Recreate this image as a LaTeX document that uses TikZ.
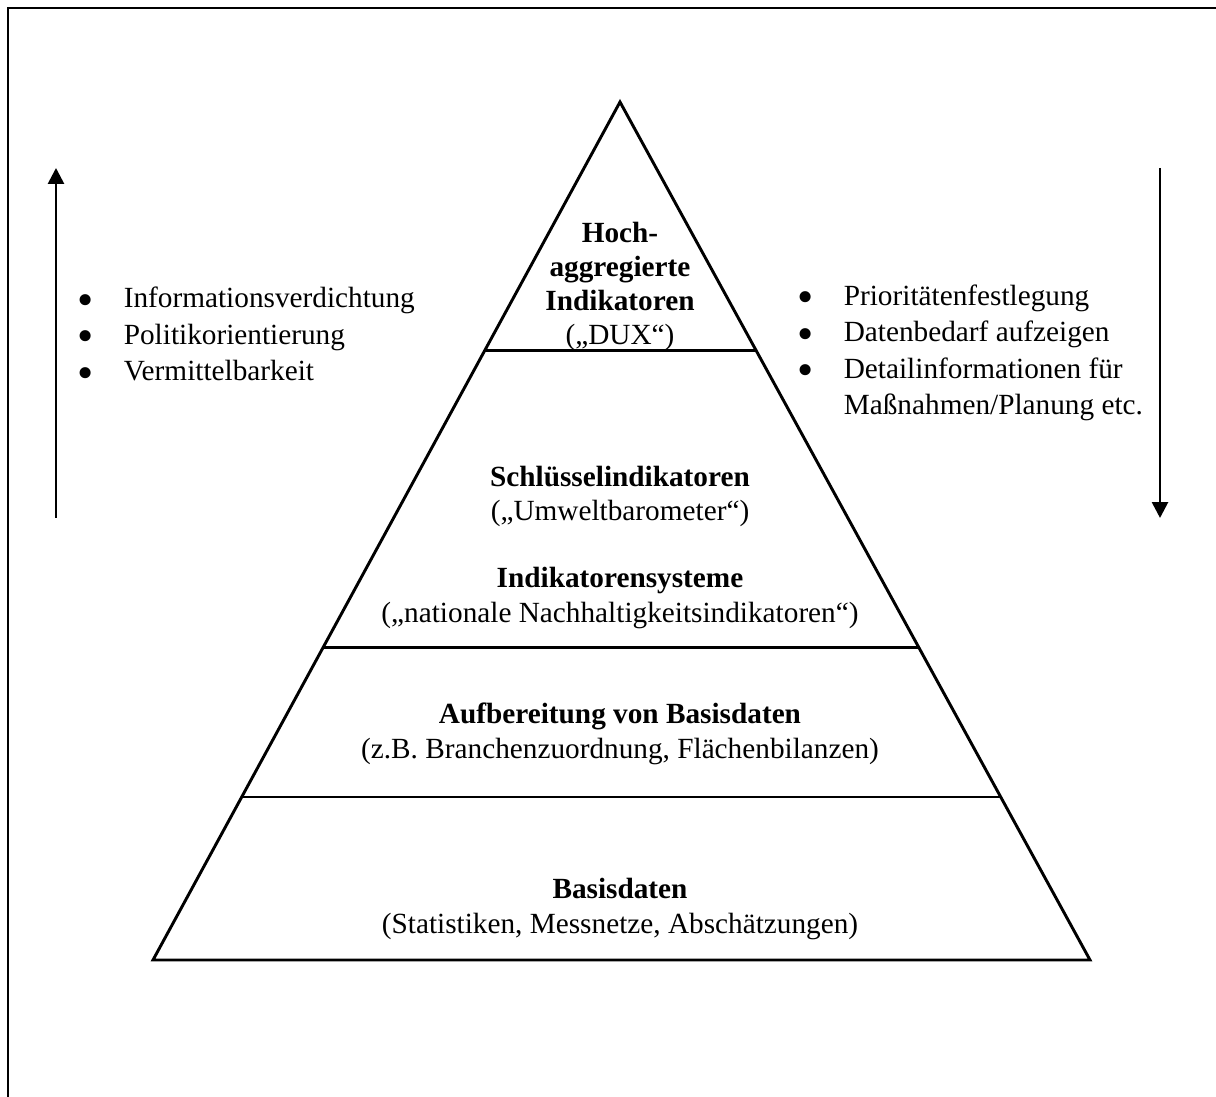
\documentclass[tikz,border=0pt]{standalone}
\usepackage{fontspec}
\setmainfont{Liberation Serif}
\usetikzlibrary{arrows.meta, positioning, calc}
\tikzset{x=0.41pt, y=-0.41pt, >={Triangle[width=6.5pt,length=6.5pt]},
  layer/.style={align=center, font=\fontsize{12}{14}\selectfont, inner sep=0pt, anchor=base},
  bullets/.style={align=left, font=\fontsize{12}{15}\selectfont, inner sep=0pt, anchor=base west},
  outline/.style={line width=1.2pt}}
\newcommand{\blt}{\makebox[19pt][l]{\smash{\raisebox{-3pt}{\fontsize{19}{19}\selectfont\textbullet}}}}

\begin{document}
\begin{tikzpicture}
\useasboundingbox (0,0) rectangle (1216,1097);
\draw[line width=0.8pt] (8,1097) -- (8,8) -- (1216,8);

% pyramid
\coordinate (top) at (620,102);
\coordinate (bl) at (153,960);
\coordinate (br) at (1090,960);
\draw[outline] (top) -- (br) -- (bl) -- cycle;
\foreach \f in {0.290, 0.636, 0.810}
  \draw[outline] ($(top)!\f!(bl)$) -- ($(top)!\f!(br)$);

% levels (anchored at the baseline of their last line)
\node[layer] (dux) at (620,345) {\textbf{Hoch-}\\\textbf{aggregierte}\\\textbf{Indikatoren}\\(„DUX“)};
\node[layer] (key) at (620,521) {\textbf{Schlüsselindikatoren}\\(„Umweltbarometer“)};
\node[layer] (sys) at (620,622) {\textbf{Indikatorensysteme}\\(„nationale Nachhaltigkeitsindikatoren“)};
\node[layer] (prep) at (620,758) {\textbf{Aufbereitung von Basisdaten}\\(z.B. Branchenzuordnung, Flächenbilanzen)};
\node[layer] (base) at (620,933) {\textbf{Basisdaten}\\(Statistiken, Messnetze, Abschätzungen)};

% side lists
\node[bullets] (up) at (77,381) {\blt Informationsverdichtung\\\blt Politikorientierung\\\blt Vermittelbarkeit};
\node[bullets] (down) at (797,415) {\blt Prioritätenfestlegung\\\blt Datenbedarf aufzeigen\\\blt Detailinformationen für\\\hspace*{19pt}Maßnahmen/Planung etc.};

\coordinate (upS) at (56,518);
\coordinate (upE) at (56,168);
\coordinate (downS) at (1160,168);
\coordinate (downE) at (1160,518);
\draw[->, line width=1.1pt] (upS) -- (upE);
\draw[->, line width=1.1pt] (downS) -- (downE);
\end{tikzpicture}
\end{document}
